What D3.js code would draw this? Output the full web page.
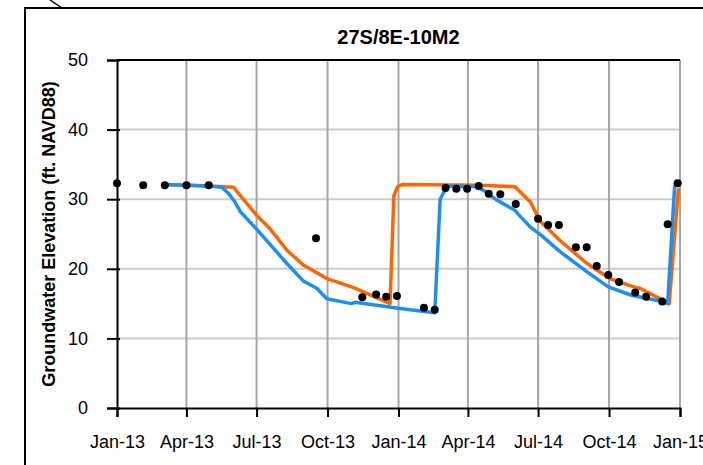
<!DOCTYPE html>
<html>
<head>
<meta charset="utf-8">
<script src="https://cdn.jsdelivr.net/npm/d3@7"></script>
<style>
  html, body { margin: 0; padding: 0; background: #fff; }
  svg { display: block; font-family: Arial, "Liberation Sans", sans-serif; }
</style>
</head>
<body>
<svg id="chart" width="703" height="465"></svg>
<script>
// Well 27S/8E-10M2 – observed groundwater elevations and two model traces
const title = "27S/8E-10M2";
const yLabel = "Groundwater Elevation (ft. NAVD88)";

const yTicks = [0, 10, 20, 30, 40, 50];
const xTickDates = ["2013-01-01", "2013-04-01", "2013-07-01", "2013-10-01", "2014-01-01",
                    "2014-04-01", "2014-07-01", "2014-10-01", "2015-01-01"];
const xTickLabels = ["Jan-13", "Apr-13", "Jul-13", "Oct-13", "Jan-14",
                     "Apr-14", "Jul-14", "Oct-14", "Jan-15"];

// observed measurements
const obsDates = ["2013-01-01", "2013-02-04", "2013-03-04", "2013-04-01", "2013-04-30",
  "2013-09-16", "2013-11-15", "2013-12-03", "2013-12-16", "2013-12-30",
  "2014-02-03", "2014-02-17", "2014-03-03", "2014-03-17", "2014-03-31",
  "2014-04-15", "2014-04-28", "2014-05-13", "2014-06-02", "2014-07-01",
  "2014-07-14", "2014-07-28", "2014-08-19", "2014-09-02", "2014-09-15",
  "2014-09-30", "2014-10-14", "2014-11-04", "2014-11-18", "2014-12-09",
  "2014-12-16", "2014-12-29"];
const obsValues = [32.3, 32.0, 32.0, 32.0, 32.0,
  24.4, 15.9, 16.3, 16.0, 16.1,
  14.4, 14.1, 31.6, 31.5, 31.5,
  31.9, 30.8, 30.7, 29.3, 27.2,
  26.3, 26.3, 23.1, 23.1, 20.4,
  19.1, 18.1, 16.6, 16.0, 15.3,
  26.4, 32.3];

// orange trace
const orangeDates = ["2013-03-04", "2013-04-30", "2013-06-01", "2013-07-01", "2013-07-18",
  "2013-08-09", "2013-08-31", "2013-09-30", "2013-11-01", "2013-11-06",
  "2013-12-21", "2013-12-26", "2013-12-31", "2014-01-06", "2014-04-16",
  "2014-06-01", "2014-06-21", "2014-07-04", "2014-07-29", "2014-09-02",
  "2014-10-02", "2014-11-02", "2014-11-10", "2014-12-18", "2014-12-30"];
const orangeValues = [32.1, 31.9, 31.7, 27.7, 25.8,
  22.7, 20.5, 18.6, 17.4, 17.2,
  15.0, 30.5, 31.8, 32.1, 32.0,
  31.8, 29.6, 26.8, 24.1, 20.8,
  18.6, 17.4, 17.2, 15.0, 31.6];

// blue trace
const blueDates = ["2013-03-04", "2013-04-01", "2013-04-30", "2013-05-17", "2013-05-25",
  "2013-06-03", "2013-06-10", "2013-07-01", "2013-08-09", "2013-08-31",
  "2013-09-17", "2013-09-30", "2013-11-01", "2013-11-06", "2014-01-03",
  "2014-02-17", "2014-02-24", "2014-03-05", "2014-04-12", "2014-04-21",
  "2014-05-08", "2014-06-01", "2014-06-08", "2014-06-21", "2014-07-04",
  "2014-07-29", "2014-09-02", "2014-09-30", "2014-10-30", "2014-12-09",
  "2014-12-16", "2014-12-25", "2014-12-29"];
const blueValues = [32.1, 32.0, 31.9, 31.7, 30.9,
  29.6, 28.2, 25.7, 20.8, 18.2,
  17.2, 15.7, 15.0, 15.2, 14.3,
  13.7, 30.0, 31.9, 31.8, 31.3,
  29.9, 28.4, 27.5, 26.0, 24.9,
  22.5, 19.6, 17.4, 16.2, 15.3,
  15.0, 31.8, 32.3];

const parse = d3.timeParse("%Y-%m-%d");
const svg = d3.select("#chart");

const plot = { left: 117, right: 680, top: 60, bottom: 408 };

const x = d3.scaleTime()
  .domain([parse("2013-01-01"), parse("2015-01-01")])
  .range([plot.left, plot.right]);
const y = d3.scaleLinear()
  .domain([0, 50])
  .range([plot.bottom, plot.top]);

// outer frame and leader line
svg.append("rect")
  .attr("x", 25).attr("y", 8).attr("width", 720).attr("height", 500)
  .attr("fill", "none").attr("stroke", "#000").attr("stroke-width", 2);
svg.append("line")
  .attr("x1", 50).attr("y1", 0).attr("x2", 62).attr("y2", 8)
  .attr("stroke", "#000").attr("stroke-width", 1.5);

// horizontal gridlines
svg.append("g").selectAll("line")
  .data(yTicks.filter(v => v > 0 && v < 50))
  .join("line")
  .attr("x1", plot.left).attr("x2", plot.right)
  .attr("y1", d => y(d)).attr("y2", d => y(d))
  .attr("stroke", "#cccccc").attr("stroke-width", 2);

// vertical gridlines
svg.append("g").selectAll("line")
  .data(xTickDates.slice(1))
  .join("line")
  .attr("x1", d => x(parse(d))).attr("x2", d => x(parse(d)))
  .attr("y1", plot.top).attr("y2", plot.bottom)
  .attr("stroke", "#a6a6a6").attr("stroke-width", 2);

// top border of plot area
svg.append("line")
  .attr("x1", plot.left).attr("x2", plot.right)
  .attr("y1", plot.top).attr("y2", plot.top)
  .attr("stroke", "#000").attr("stroke-width", 2);

// y axis
const yAxis = d3.axisLeft(y).tickValues(yTicks).tickSize(10).tickPadding(19)
  .tickFormat(d3.format("d"));
const gy = svg.append("g").attr("transform", `translate(${plot.left},0)`).call(yAxis);
gy.select(".domain").attr("stroke", "#000").attr("stroke-width", 2);
gy.selectAll(".tick line").attr("stroke", "#000").attr("stroke-width", 2).attr("x2", -10).attr("x1", 3);
gy.selectAll(".tick text").attr("font-size", 18).attr("fill", "#000")
  .attr("font-family", "Arial, 'Liberation Sans', sans-serif");

// x axis
const xAxis = d3.axisBottom(x).tickValues(xTickDates.map(parse)).tickSize(9).tickPadding(18)
  .tickFormat((d, i) => xTickLabels[i]);
const gx = svg.append("g").attr("transform", `translate(0,${plot.bottom})`).call(xAxis);
gx.select(".domain").attr("stroke", "#000").attr("stroke-width", 2);
gx.selectAll(".tick line").attr("stroke", "#000").attr("stroke-width", 2);
gx.selectAll(".tick text").attr("font-size", 18).attr("fill", "#000")
  .attr("font-family", "Arial, 'Liberation Sans', sans-serif");

// model traces
const line = d3.line()
  .x(d => x(d.date)).y(d => y(d.value))
  .curve(d3.curveLinear);

const orange = orangeDates.map((d, i) => ({ date: parse(d), value: orangeValues[i] }));
const blue = blueDates.map((d, i) => ({ date: parse(d), value: blueValues[i] }));

svg.append("path").datum(orange)
  .attr("d", line).attr("fill", "none")
  .attr("stroke", "#ff6600").attr("stroke-width", 3.5).attr("stroke-linejoin", "round");
svg.append("path").datum(blue)
  .attr("d", line).attr("fill", "none")
  .attr("stroke", "#1e8ff0").attr("stroke-width", 3.5).attr("stroke-linejoin", "round");

// observations
const obs = obsDates.map((d, i) => ({ date: parse(d), value: obsValues[i] }));
svg.append("g").selectAll("circle")
  .data(obs)
  .join("circle")
  .attr("cx", d => x(d.date)).attr("cy", d => y(d.value))
  .attr("r", 4).attr("fill", "#000");

// title
svg.append("text")
  .attr("x", (plot.left + plot.right) / 2).attr("y", 44)
  .attr("text-anchor", "middle")
  .attr("font-size", 20).attr("font-weight", "bold")
  .text(title);

// y axis title
svg.append("text")
  .attr("transform", `translate(55,${(plot.top + plot.bottom) / 2}) rotate(-90)`)
  .attr("text-anchor", "middle")
  .attr("font-size", 18).attr("font-weight", "bold")
  .text(yLabel);
</script>
</body>
</html>
